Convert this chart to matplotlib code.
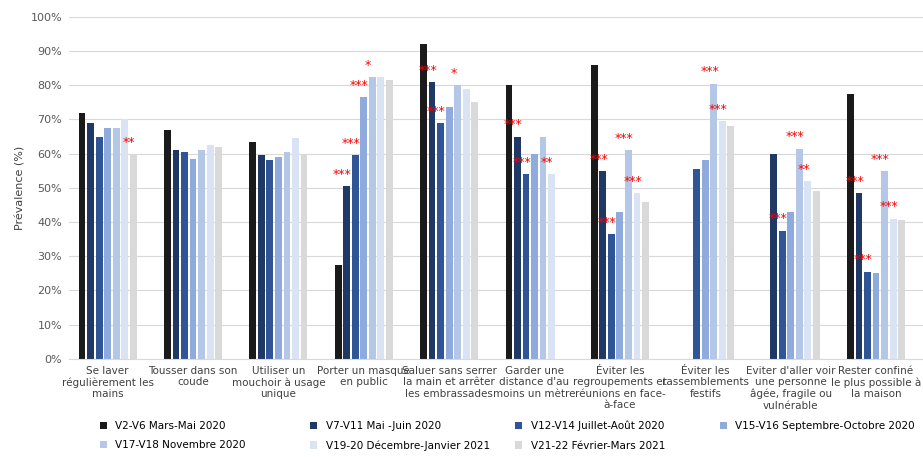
import numpy as np
import matplotlib
matplotlib.use("Agg")
import matplotlib.pyplot as plt

categories = [
    "Se laver\nrégulièrement les\nmains",
    "Tousser dans son\ncoude",
    "Utiliser un\nmouchoir à usage\nunique",
    "Porter un masque\nen public",
    "Saluer sans serrer\nla main et arrêter\nles embrassades",
    "Garder une\ndistance d'au\nmoins un mètre",
    "Éviter les\nregroupements et\nréunions en face-\nà-face",
    "Éviter les\nrassemblements\nfestifs",
    "Eviter d'aller voir\nune personne\nâgée, fragile ou\nvulnérable",
    "Rester confiné\nle plus possible à\nla maison",
]
series_labels = [
    "V2-V6 Mars-Mai 2020",
    "V7-V11 Mai -Juin 2020",
    "V12-V14 Juillet-Août 2020",
    "V15-V16 Septembre-Octobre 2020",
    "V17-V18 Novembre 2020",
    "V19-20 Décembre-Janvier 2021",
    "V21-22 Février-Mars 2021",
]
colors = ["#1a1a1a", "#203864", "#2f5597", "#8faadc", "#b4c7e7", "#dae3f3", "#d9d9d9"]
nan = np.nan
v2_v6 = [72, 67, 63.5, 27.5, 92, 80, 86, nan, nan, 77.5]
v7_v11 = [69, 61, 59.5, 50.5, 81, 65, 55, nan, 60, 48.5]
v12_v14 = [65, 60.5, 58, 59.5, 69, 54, 36.5, 55.5, 37.5, 25.5]
v15_v16 = [67.5, 58.5, 59, 76.5, 73.5, 60, 43, 58, 43, 25]
v17_v18 = [67.5, 61, 60.5, 82.5, 80, 65, 61, 80.5, 61.5, 55]
v19_v20 = [70, 62.5, 64.5, 82.5, 79, 54, 48.5, 69.5, 52, 41]
v21_v22 = [60, 62, 59.5, 81.5, 75, nan, 46, 68, 49, 40.5]
series = [v2_v6, v7_v11, v12_v14, v15_v16, v17_v18, v19_v20, v21_v22]
# significance stars: (category, series index, text)
stars = [
    (0, 6, "**"), (3, 1, "***"), (3, 2, "***"), (3, 3, "***"), (3, 4, "*"),
    (4, 1, "***"), (4, 2, "***"), (4, 4, "*"),
    (5, 1, "***"), (5, 2, "***"), (5, 5, "**"),
    (6, 1, "***"), (6, 2, "***"), (6, 4, "***"), (6, 5, "***"),
    (7, 4, "***"), (7, 5, "***"),
    (8, 2, "***"), (8, 4, "***"), (8, 5, "**"),
    (9, 1, "***"), (9, 2, "***"), (9, 4, "***"), (9, 5, "***"),
]

fig = plt.figure(figsize=(9.23, 4.57), dpi=100)
ax = fig.add_axes([0.075, 0.215, 0.925, 0.748])
x = np.arange(len(categories))
w = 0.1
handles = []
for i, (vals, lab, c) in enumerate(zip(series, series_labels, colors)):
    handles.append(ax.bar(x + (i - 3) * w, vals, w * 0.8, color=c, label=lab, zorder=2))
for ci, si, txt in stars:
    v = series[si][ci]
    ax.text(x[ci] + (si - 3) * w - w * 0.5, v + 1.5, txt, color="red",
            fontsize=9, ha="center", va="bottom", zorder=3)

ax.set_ylim(0, 100)
ax.set_xlim(-0.45, 9.55)
ax.set_yticks(range(0, 101, 10))
ax.set_yticklabels([f"{t}%" for t in range(0, 101, 10)], fontsize=8, color="#595959")
ax.set_xticks(x)
ax.set_xticklabels(categories, fontsize=7.5, color="#404040", va="top", linespacing=1.2)
ax.tick_params(length=0, pad=5)
ax.set_ylabel("Prévalence (%)", fontsize=8, color="#404040")
ax.grid(axis="y", color="#d9d9d9", linewidth=0.8, zorder=0)
for s in ["top", "right", "left"]:
    ax.spines[s].set_visible(False)
ax.spines["bottom"].set_color("#d9d9d9")

# legend: four columns placed by hand, row-major order
col_x = [0.1, 0.328, 0.55, 0.772]
for j, cx in enumerate(col_x):
    idx = [k for k in (j, j + 4) if k < len(series)]
    fig.legend([handles[k] for k in idx], [series_labels[k] for k in idx],
               loc="upper left", bbox_to_anchor=(cx, 0.095), frameon=False,
               fontsize=7.5, handlelength=0.7, handleheight=0.7, labelspacing=0.9,
               borderaxespad=0.3)
fig.savefig("out.png", dpi=100)
